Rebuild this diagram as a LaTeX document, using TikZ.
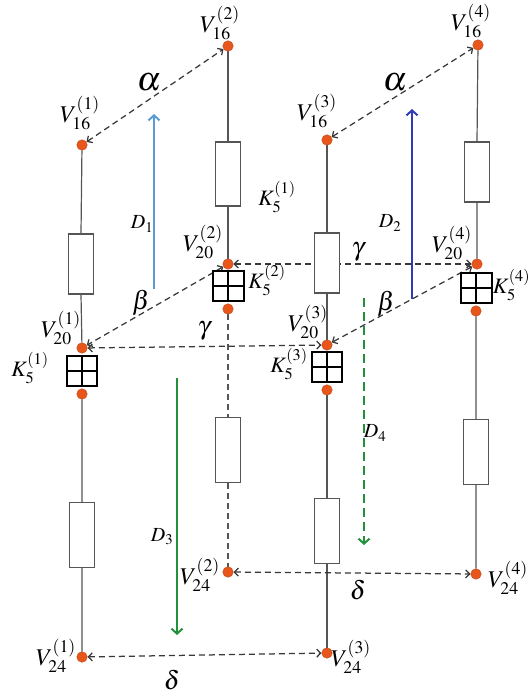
\documentclass[tikz,border=0pt]{standalone}
\usepackage{mathptmx}
\usetikzlibrary{arrows.meta}
\definecolor{dotfill}{HTML}{E8561C}
\definecolor{wire}{HTML}{555555}
\definecolor{link}{HTML}{383838}
\definecolor{lightblue}{HTML}{5B9BD5}
\definecolor{darkblue}{HTML}{2E3DB5}
\definecolor{dgreen}{HTML}{23903A}
\pgfdeclarelayer{bg}
\pgfsetlayers{bg,main}
\tikzset{
  vdot/.style={circle, fill=dotfill, draw=dotfill!80!black, line width=0.4pt,
    minimum size=10.5pt, inner sep=0pt},
  res/.style={rectangle, draw=wire, fill=white, line width=1.2pt,
    minimum width=25pt, minimum height=62pt, inner sep=0pt},
  kbox/.style={rectangle, draw=black, fill=white, line width=2pt,
    minimum width=30pt, minimum height=30pt, inner sep=0pt,
    path picture={\draw[line width=1.1pt]
      (path picture bounding box.north) -- (path picture bounding box.south)
      (path picture bounding box.west) -- (path picture bounding box.east);}},
  wireline/.style={draw=wire, line width=1.2pt},
  wiredash/.style={draw=wire, line width=1.2pt, dash pattern=on 6pt off 4pt},
  linkline/.style={draw=link, line width=1.25pt, dash pattern=on 6pt off 4pt,
    {Straight Barb[length=4pt,width=8pt]}-{Straight Barb[length=4pt,width=8pt]}},
  lab/.style={inner sep=0pt, font=\fontsize{24}{28}\selectfont},
  klab/.style={inner sep=0pt, font=\fontsize{22}{26}\selectfont},
  dlab/.style={inner sep=0pt, font=\fontsize{20}{24}\selectfont},
  greek/.style={inner sep=0pt, font=\fontsize{26}{30}\selectfont},
  biggreek/.style={inner sep=0pt, font=\fontsize{34}{38}\selectfont},
  bigarrow/.style={line width=2pt, -{Straight Barb[length=5pt,width=11pt]}},
}
\begin{document}
\begin{tikzpicture}[x=1pt, y=-1pt]
\useasboundingbox (0,0) rectangle (529,698);

% ---- column 1 ----
\node[res, minimum height=60pt] (r1a) at (81,264) {};
\node[kbox] (k1) at (82,371) {};
\node[res, minimum height=65pt] (r1b) at (82,535) {};
\node[vdot] (v16a) at (82,145) {};
\node[vdot] (v20a) at (82,348) {};
\node[vdot] (b1) at (82,394) {};
\node[vdot] (v24a) at (82,657) {};

% ---- column 2 ----
\node[res, minimum height=64pt] (r2a) at (228,174) {};
\node[kbox, minimum width=31pt] (k2) at (228,286) {};
\node[res, minimum height=65pt] (r2b) at (228,450) {};
\node[vdot] (v16b) at (228,46) {};
\node[vdot] (v20b) at (228,264) {};
\node[vdot] (b2) at (228,309) {};
\node[vdot] (v24b) at (228,572) {};

% ---- column 3 ----
\node[res, minimum height=60pt] (r3a) at (327,263) {};
\node[kbox] (k3) at (327,367) {};
\node[res, minimum height=65pt] (r3b) at (327,531) {};
\node[vdot] (v16c) at (327,140) {};
\node[vdot] (v20c) at (327,345) {};
\node[vdot] (b3) at (327,390) {};
\node[vdot] (v24c) at (327,653) {};

% ---- column 4 ----
\node[res, minimum height=60pt] (r4a) at (477,172) {};
\node[kbox, minimum width=31pt] (k4) at (476,288) {};
\node[res, minimum height=65pt] (r4b) at (476,452) {};
\node[vdot] (v16d) at (478,45) {};
\node[vdot] (v20d) at (477,264) {};
\node[vdot] (b4) at (476,311) {};
\node[vdot] (v24d) at (476,574) {};

% ---- free ends of the direction arrows ----
\coordinate (D1s) at (154,289);
\coordinate (D1e) at (154,114);
\coordinate (D2s) at (412,299);
\coordinate (D2e) at (412,109);
\coordinate (D3s) at (177,378);
\coordinate (D3e) at (177,635);
\coordinate (D4s) at (364,298);
\coordinate (D4e) at (364,545);

\begin{pgfonlayer}{bg}
  % vertical wiring
  \draw[wireline] (v16a) -- (r1a.north) (r1a.south) -- (v20a)
                  (b1) -- (r1b.north) (r1b.south) -- (v24a);
  \draw[wireline] (v16b) -- (r2a.north) (r2a.south) -- (v20b);
  \draw[wiredash] (b2) -- (r2b.north) (r2b.south) -- (v24b);
  \draw[wireline] (v16c) -- (r3a.north) (r3a.south) -- (v20c)
                  (b3) -- (r3b.north) (r3b.south) -- (v24c);
  \draw[wireline] (v16d) -- (r4a.north) (r4a.south) -- (v20d)
                  (b4) -- (r4b.north) (r4b.south) -- (v24d);
  % links between the branches
  \draw[linkline] (v16a) -- (v16b);
  \draw[linkline] (v16c) -- (v16d);
  \draw[linkline] (v20b) -- (v20a);
  \draw[linkline] (v20d) -- (v20c);
  \draw[linkline] (v20a) -- (v20c);
  \draw[linkline] (v20b) -- (v20d);
  \draw[linkline] (v24a) -- (v24c);
  \draw[linkline] (v24b) -- (v24d);
  % direction arrows
  \draw[bigarrow, draw=lightblue] (D1s) -- (D1e);
  \draw[bigarrow, draw=darkblue] (D2s) -- (D2e);
  \draw[bigarrow, draw=dgreen] (D3s) -- (D3e);
  \draw[bigarrow, draw=dgreen, dash pattern=on 9pt off 5pt] (D4s) -- (D4e);
\end{pgfonlayer}

% ---- node labels ----
\node[lab] (lv16a) at (80,113) {$V_{16}^{(1)}$};
\node[lab] (lv16b) at (220,23) {$V_{16}^{(2)}$};
\node[lab] (lv16c) at (317,111) {$V_{16}^{(3)}$};
\node[lab] (lv16d) at (471,21) {$V_{16}^{(4)}$};
\node[lab] (lv20a) at (61,328) {$V_{20}^{(1)}$};
\node[lab] (lv20b) at (203,242) {$V_{20}^{(2)}$};
\node[lab] (lv20c) at (308,322) {$V_{20}^{(3)}$};
\node[lab] (lv20d) at (452,243) {$V_{20}^{(4)}$};
\node[lab] (lv24a) at (56,656) {$V_{24}^{(1)}$};
\node[lab] (lv24b) at (200,575) {$V_{24}^{(2)}$};
\node[lab] (lv24c) at (351,657) {$V_{24}^{(3)}$};
\node[lab] (lv24d) at (508,578) {$V_{24}^{(4)}$};

\node[klab] (lk1) at (30,368) {$K_5^{(1)}$};
\node[klab] (lk1b) at (277,197) {$K_5^{(1)}$};
\node[klab] (lk2) at (267,280) {$K_5^{(2)}$};
\node[klab] (lk3) at (289,364) {$K_5^{(3)}$};
\node[klab] (lk4) at (511.5,285) {$K_5^{(4)}$};

\node[biggreek] (la1) at (149,82) {$\alpha$};
\node[biggreek] (la2) at (395,82) {$\alpha$};
\node[greek] (lb1) at (141,303) {$\beta$};
\node[greek] (lb2) at (386,304) {$\beta$};
\node[greek] (lg1) at (204,331) {$\gamma$};
\node[greek] (lg2) at (358,252) {$\gamma$};
\node[greek] (ld1) at (172,680) {$\delta$};
\node[greek] (ld2) at (358,590) {$\delta$};

\node[dlab] (lD1) at (142,224) {$D_1$};
\node[dlab] (lD2) at (390,223) {$D_2$};
\node[dlab] (lD3) at (162,537) {$D_3$};
\node[dlab] (lD4) at (375,433) {$D_4$};
\end{tikzpicture}
\end{document}
